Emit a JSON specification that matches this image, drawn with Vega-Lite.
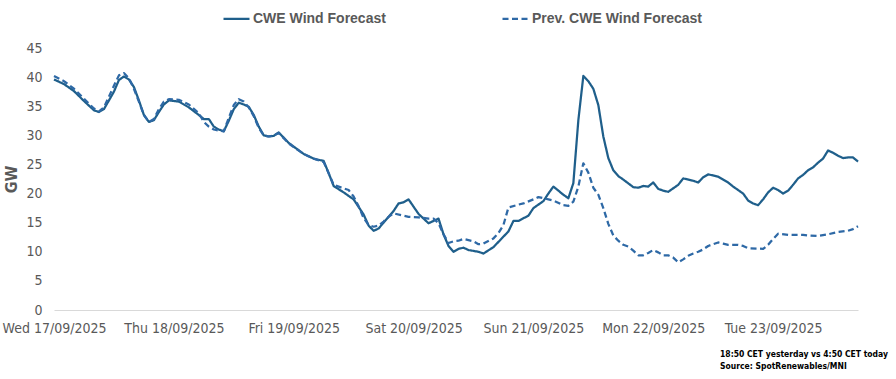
{
  "$schema": "https://vega.github.io/schema/vega-lite/v6.json",
  "width": 804,
  "height": 262,
  "autosize": "none",
  "padding": {"left": 54, "top": 48, "right": 38, "bottom": 69},
  "background": "white",
  "config": {
    "view": {"stroke": null},
    "font": "Liberation Sans Narrow, DejaVu Sans Condensed, Arial Narrow, sans-serif",
    "legend": {
      "orient": "none",
      "legendX": 168,
      "legendY": -44,
      "direction": "horizontal",
      "title": null,
      "symbolType": "stroke",
      "symbolSize": 676,
      "symbolStrokeWidth": 2.25,
      "labelFont": "Liberation Sans, Arial, sans-serif",
      "labelFontSize": 14,
      "labelFontWeight": "bold",
      "labelColor": "#595959",
      "labelOffset": 2,
      "columnPadding": 112,
      "labelLimit": 400
    }
  },
  "title": {
    "text": ["18:50 CET yesterday vs  4:50 CET today", "Source: SpotRenewables/MNI"],
    "orient": "bottom",
    "anchor": "start",
    "frame": "group",
    "align": "left",
    "dx": 666,
    "offset": 15,
    "font": "Liberation Sans Narrow, DejaVu Sans Condensed, Arial Narrow, sans-serif",
    "fontSize": 8.5,
    "fontWeight": "bold",
    "color": "#000000",
    "lineHeight": 12
  },
  "data": {
    "values": [
      {"t": "2025-09-17T00:00", "v": 39.6, "s": "CWE Wind Forecast"},
      {"t": "2025-09-17T02:00", "v": 38.8, "s": "CWE Wind Forecast"},
      {"t": "2025-09-17T04:00", "v": 37.6, "s": "CWE Wind Forecast"},
      {"t": "2025-09-17T06:00", "v": 35.9, "s": "CWE Wind Forecast"},
      {"t": "2025-09-17T08:00", "v": 34.3, "s": "CWE Wind Forecast"},
      {"t": "2025-09-17T09:00", "v": 34.0, "s": "CWE Wind Forecast"},
      {"t": "2025-09-17T10:00", "v": 34.5, "s": "CWE Wind Forecast"},
      {"t": "2025-09-17T12:00", "v": 37.5, "s": "CWE Wind Forecast"},
      {"t": "2025-09-17T13:00", "v": 39.5, "s": "CWE Wind Forecast"},
      {"t": "2025-09-17T14:00", "v": 40.1, "s": "CWE Wind Forecast"},
      {"t": "2025-09-17T15:00", "v": 39.6, "s": "CWE Wind Forecast"},
      {"t": "2025-09-17T16:00", "v": 38.3, "s": "CWE Wind Forecast"},
      {"t": "2025-09-17T17:00", "v": 36.0, "s": "CWE Wind Forecast"},
      {"t": "2025-09-17T18:00", "v": 33.5, "s": "CWE Wind Forecast"},
      {"t": "2025-09-17T19:00", "v": 32.3, "s": "CWE Wind Forecast"},
      {"t": "2025-09-17T20:00", "v": 32.6, "s": "CWE Wind Forecast"},
      {"t": "2025-09-17T21:00", "v": 34.0, "s": "CWE Wind Forecast"},
      {"t": "2025-09-17T22:00", "v": 35.3, "s": "CWE Wind Forecast"},
      {"t": "2025-09-17T23:00", "v": 36.0, "s": "CWE Wind Forecast"},
      {"t": "2025-09-18T01:00", "v": 35.8, "s": "CWE Wind Forecast"},
      {"t": "2025-09-18T03:00", "v": 34.8, "s": "CWE Wind Forecast"},
      {"t": "2025-09-18T05:00", "v": 33.5, "s": "CWE Wind Forecast"},
      {"t": "2025-09-18T06:00", "v": 32.8, "s": "CWE Wind Forecast"},
      {"t": "2025-09-18T07:00", "v": 32.8, "s": "CWE Wind Forecast"},
      {"t": "2025-09-18T08:00", "v": 31.5, "s": "CWE Wind Forecast"},
      {"t": "2025-09-18T09:00", "v": 31.0, "s": "CWE Wind Forecast"},
      {"t": "2025-09-18T10:00", "v": 30.7, "s": "CWE Wind Forecast"},
      {"t": "2025-09-18T11:00", "v": 32.5, "s": "CWE Wind Forecast"},
      {"t": "2025-09-18T12:00", "v": 34.5, "s": "CWE Wind Forecast"},
      {"t": "2025-09-18T13:00", "v": 35.6, "s": "CWE Wind Forecast"},
      {"t": "2025-09-18T14:00", "v": 35.3, "s": "CWE Wind Forecast"},
      {"t": "2025-09-18T15:00", "v": 34.9, "s": "CWE Wind Forecast"},
      {"t": "2025-09-18T16:00", "v": 33.5, "s": "CWE Wind Forecast"},
      {"t": "2025-09-18T17:00", "v": 31.5, "s": "CWE Wind Forecast"},
      {"t": "2025-09-18T18:00", "v": 30.0, "s": "CWE Wind Forecast"},
      {"t": "2025-09-18T19:00", "v": 29.8, "s": "CWE Wind Forecast"},
      {"t": "2025-09-18T20:00", "v": 29.9, "s": "CWE Wind Forecast"},
      {"t": "2025-09-18T21:00", "v": 30.5, "s": "CWE Wind Forecast"},
      {"t": "2025-09-18T23:00", "v": 28.7, "s": "CWE Wind Forecast"},
      {"t": "2025-09-19T02:00", "v": 26.8, "s": "CWE Wind Forecast"},
      {"t": "2025-09-19T04:00", "v": 26.0, "s": "CWE Wind Forecast"},
      {"t": "2025-09-19T06:00", "v": 25.6, "s": "CWE Wind Forecast"},
      {"t": "2025-09-19T07:00", "v": 23.5, "s": "CWE Wind Forecast"},
      {"t": "2025-09-19T08:00", "v": 21.3, "s": "CWE Wind Forecast"},
      {"t": "2025-09-19T10:00", "v": 20.2, "s": "CWE Wind Forecast"},
      {"t": "2025-09-19T12:00", "v": 19.0, "s": "CWE Wind Forecast"},
      {"t": "2025-09-19T14:00", "v": 16.4, "s": "CWE Wind Forecast"},
      {"t": "2025-09-19T15:00", "v": 14.5, "s": "CWE Wind Forecast"},
      {"t": "2025-09-19T16:00", "v": 13.6, "s": "CWE Wind Forecast"},
      {"t": "2025-09-19T17:00", "v": 14.0, "s": "CWE Wind Forecast"},
      {"t": "2025-09-19T18:00", "v": 15.0, "s": "CWE Wind Forecast"},
      {"t": "2025-09-19T20:00", "v": 17.0, "s": "CWE Wind Forecast"},
      {"t": "2025-09-19T21:00", "v": 18.3, "s": "CWE Wind Forecast"},
      {"t": "2025-09-19T22:00", "v": 18.5, "s": "CWE Wind Forecast"},
      {"t": "2025-09-19T23:00", "v": 19.0, "s": "CWE Wind Forecast"},
      {"t": "2025-09-20T01:00", "v": 16.5, "s": "CWE Wind Forecast"},
      {"t": "2025-09-20T03:00", "v": 14.9, "s": "CWE Wind Forecast"},
      {"t": "2025-09-20T04:00", "v": 15.3, "s": "CWE Wind Forecast"},
      {"t": "2025-09-20T05:00", "v": 15.7, "s": "CWE Wind Forecast"},
      {"t": "2025-09-20T06:00", "v": 13.0, "s": "CWE Wind Forecast"},
      {"t": "2025-09-20T07:00", "v": 11.0, "s": "CWE Wind Forecast"},
      {"t": "2025-09-20T08:00", "v": 10.0, "s": "CWE Wind Forecast"},
      {"t": "2025-09-20T09:00", "v": 10.5, "s": "CWE Wind Forecast"},
      {"t": "2025-09-20T10:00", "v": 10.7, "s": "CWE Wind Forecast"},
      {"t": "2025-09-20T11:00", "v": 10.3, "s": "CWE Wind Forecast"},
      {"t": "2025-09-20T13:00", "v": 10.0, "s": "CWE Wind Forecast"},
      {"t": "2025-09-20T14:00", "v": 9.7, "s": "CWE Wind Forecast"},
      {"t": "2025-09-20T16:00", "v": 10.8, "s": "CWE Wind Forecast"},
      {"t": "2025-09-20T17:00", "v": 11.7, "s": "CWE Wind Forecast"},
      {"t": "2025-09-20T19:00", "v": 13.5, "s": "CWE Wind Forecast"},
      {"t": "2025-09-20T20:00", "v": 15.3, "s": "CWE Wind Forecast"},
      {"t": "2025-09-20T21:00", "v": 15.3, "s": "CWE Wind Forecast"},
      {"t": "2025-09-20T23:00", "v": 16.2, "s": "CWE Wind Forecast"},
      {"t": "2025-09-21T00:00", "v": 17.5, "s": "CWE Wind Forecast"},
      {"t": "2025-09-21T02:00", "v": 18.7, "s": "CWE Wind Forecast"},
      {"t": "2025-09-21T03:00", "v": 20.0, "s": "CWE Wind Forecast"},
      {"t": "2025-09-21T04:00", "v": 21.2, "s": "CWE Wind Forecast"},
      {"t": "2025-09-21T05:00", "v": 20.5, "s": "CWE Wind Forecast"},
      {"t": "2025-09-21T06:00", "v": 19.8, "s": "CWE Wind Forecast"},
      {"t": "2025-09-21T07:00", "v": 19.2, "s": "CWE Wind Forecast"},
      {"t": "2025-09-21T08:00", "v": 21.8, "s": "CWE Wind Forecast"},
      {"t": "2025-09-21T09:00", "v": 32.6, "s": "CWE Wind Forecast"},
      {"t": "2025-09-21T10:00", "v": 40.2, "s": "CWE Wind Forecast"},
      {"t": "2025-09-21T11:00", "v": 39.3, "s": "CWE Wind Forecast"},
      {"t": "2025-09-21T12:00", "v": 38.0, "s": "CWE Wind Forecast"},
      {"t": "2025-09-21T13:00", "v": 35.2, "s": "CWE Wind Forecast"},
      {"t": "2025-09-21T14:00", "v": 29.8, "s": "CWE Wind Forecast"},
      {"t": "2025-09-21T15:00", "v": 26.1, "s": "CWE Wind Forecast"},
      {"t": "2025-09-21T16:00", "v": 24.0, "s": "CWE Wind Forecast"},
      {"t": "2025-09-21T17:00", "v": 23.0, "s": "CWE Wind Forecast"},
      {"t": "2025-09-21T18:00", "v": 22.4, "s": "CWE Wind Forecast"},
      {"t": "2025-09-21T20:00", "v": 21.1, "s": "CWE Wind Forecast"},
      {"t": "2025-09-21T21:00", "v": 21.0, "s": "CWE Wind Forecast"},
      {"t": "2025-09-21T22:00", "v": 21.3, "s": "CWE Wind Forecast"},
      {"t": "2025-09-21T23:00", "v": 21.2, "s": "CWE Wind Forecast"},
      {"t": "2025-09-22T00:00", "v": 21.9, "s": "CWE Wind Forecast"},
      {"t": "2025-09-22T01:00", "v": 20.8, "s": "CWE Wind Forecast"},
      {"t": "2025-09-22T02:00", "v": 20.5, "s": "CWE Wind Forecast"},
      {"t": "2025-09-22T03:00", "v": 20.3, "s": "CWE Wind Forecast"},
      {"t": "2025-09-22T05:00", "v": 21.5, "s": "CWE Wind Forecast"},
      {"t": "2025-09-22T06:00", "v": 22.6, "s": "CWE Wind Forecast"},
      {"t": "2025-09-22T08:00", "v": 22.2, "s": "CWE Wind Forecast"},
      {"t": "2025-09-22T09:00", "v": 21.9, "s": "CWE Wind Forecast"},
      {"t": "2025-09-22T10:00", "v": 22.8, "s": "CWE Wind Forecast"},
      {"t": "2025-09-22T11:00", "v": 23.3, "s": "CWE Wind Forecast"},
      {"t": "2025-09-22T13:00", "v": 22.9, "s": "CWE Wind Forecast"},
      {"t": "2025-09-22T15:00", "v": 21.9, "s": "CWE Wind Forecast"},
      {"t": "2025-09-22T16:00", "v": 21.2, "s": "CWE Wind Forecast"},
      {"t": "2025-09-22T17:00", "v": 20.6, "s": "CWE Wind Forecast"},
      {"t": "2025-09-22T18:00", "v": 20.0, "s": "CWE Wind Forecast"},
      {"t": "2025-09-22T19:00", "v": 18.8, "s": "CWE Wind Forecast"},
      {"t": "2025-09-22T20:00", "v": 18.3, "s": "CWE Wind Forecast"},
      {"t": "2025-09-22T21:00", "v": 18.0, "s": "CWE Wind Forecast"},
      {"t": "2025-09-22T22:00", "v": 19.0, "s": "CWE Wind Forecast"},
      {"t": "2025-09-22T23:00", "v": 20.2, "s": "CWE Wind Forecast"},
      {"t": "2025-09-23T00:00", "v": 21.0, "s": "CWE Wind Forecast"},
      {"t": "2025-09-23T01:00", "v": 20.6, "s": "CWE Wind Forecast"},
      {"t": "2025-09-23T02:00", "v": 20.0, "s": "CWE Wind Forecast"},
      {"t": "2025-09-23T03:00", "v": 20.5, "s": "CWE Wind Forecast"},
      {"t": "2025-09-23T04:00", "v": 21.5, "s": "CWE Wind Forecast"},
      {"t": "2025-09-23T05:00", "v": 22.6, "s": "CWE Wind Forecast"},
      {"t": "2025-09-23T06:00", "v": 23.2, "s": "CWE Wind Forecast"},
      {"t": "2025-09-23T07:00", "v": 24.0, "s": "CWE Wind Forecast"},
      {"t": "2025-09-23T08:00", "v": 24.5, "s": "CWE Wind Forecast"},
      {"t": "2025-09-23T09:00", "v": 25.3, "s": "CWE Wind Forecast"},
      {"t": "2025-09-23T10:00", "v": 26.0, "s": "CWE Wind Forecast"},
      {"t": "2025-09-23T11:00", "v": 27.4, "s": "CWE Wind Forecast"},
      {"t": "2025-09-23T12:00", "v": 27.0, "s": "CWE Wind Forecast"},
      {"t": "2025-09-23T13:00", "v": 26.5, "s": "CWE Wind Forecast"},
      {"t": "2025-09-23T14:00", "v": 26.1, "s": "CWE Wind Forecast"},
      {"t": "2025-09-23T15:00", "v": 26.2, "s": "CWE Wind Forecast"},
      {"t": "2025-09-23T16:00", "v": 26.2, "s": "CWE Wind Forecast"},
      {"t": "2025-09-23T17:00", "v": 25.5, "s": "CWE Wind Forecast"},
      {"t": "2025-09-17T00:00", "v": 40.2, "s": "Prev. CWE Wind Forecast"},
      {"t": "2025-09-17T02:00", "v": 39.3, "s": "Prev. CWE Wind Forecast"},
      {"t": "2025-09-17T04:00", "v": 38.0, "s": "Prev. CWE Wind Forecast"},
      {"t": "2025-09-17T06:00", "v": 36.3, "s": "Prev. CWE Wind Forecast"},
      {"t": "2025-09-17T08:00", "v": 34.6, "s": "Prev. CWE Wind Forecast"},
      {"t": "2025-09-17T09:00", "v": 34.1, "s": "Prev. CWE Wind Forecast"},
      {"t": "2025-09-17T10:00", "v": 34.8, "s": "Prev. CWE Wind Forecast"},
      {"t": "2025-09-17T12:00", "v": 38.5, "s": "Prev. CWE Wind Forecast"},
      {"t": "2025-09-17T13:00", "v": 40.3, "s": "Prev. CWE Wind Forecast"},
      {"t": "2025-09-17T14:00", "v": 40.7, "s": "Prev. CWE Wind Forecast"},
      {"t": "2025-09-17T15:00", "v": 39.8, "s": "Prev. CWE Wind Forecast"},
      {"t": "2025-09-17T16:00", "v": 38.0, "s": "Prev. CWE Wind Forecast"},
      {"t": "2025-09-17T17:00", "v": 35.8, "s": "Prev. CWE Wind Forecast"},
      {"t": "2025-09-17T18:00", "v": 33.5, "s": "Prev. CWE Wind Forecast"},
      {"t": "2025-09-17T19:00", "v": 32.3, "s": "Prev. CWE Wind Forecast"},
      {"t": "2025-09-17T20:00", "v": 32.8, "s": "Prev. CWE Wind Forecast"},
      {"t": "2025-09-17T21:00", "v": 34.5, "s": "Prev. CWE Wind Forecast"},
      {"t": "2025-09-17T22:00", "v": 35.8, "s": "Prev. CWE Wind Forecast"},
      {"t": "2025-09-17T23:00", "v": 36.2, "s": "Prev. CWE Wind Forecast"},
      {"t": "2025-09-18T01:00", "v": 36.1, "s": "Prev. CWE Wind Forecast"},
      {"t": "2025-09-18T03:00", "v": 35.3, "s": "Prev. CWE Wind Forecast"},
      {"t": "2025-09-18T05:00", "v": 33.8, "s": "Prev. CWE Wind Forecast"},
      {"t": "2025-09-18T06:00", "v": 32.3, "s": "Prev. CWE Wind Forecast"},
      {"t": "2025-09-18T07:00", "v": 31.5, "s": "Prev. CWE Wind Forecast"},
      {"t": "2025-09-18T08:00", "v": 31.0, "s": "Prev. CWE Wind Forecast"},
      {"t": "2025-09-18T09:00", "v": 30.8, "s": "Prev. CWE Wind Forecast"},
      {"t": "2025-09-18T10:00", "v": 30.7, "s": "Prev. CWE Wind Forecast"},
      {"t": "2025-09-18T11:00", "v": 33.0, "s": "Prev. CWE Wind Forecast"},
      {"t": "2025-09-18T12:00", "v": 35.2, "s": "Prev. CWE Wind Forecast"},
      {"t": "2025-09-18T13:00", "v": 36.2, "s": "Prev. CWE Wind Forecast"},
      {"t": "2025-09-18T14:00", "v": 35.8, "s": "Prev. CWE Wind Forecast"},
      {"t": "2025-09-18T15:00", "v": 34.8, "s": "Prev. CWE Wind Forecast"},
      {"t": "2025-09-18T16:00", "v": 33.3, "s": "Prev. CWE Wind Forecast"},
      {"t": "2025-09-18T17:00", "v": 31.3, "s": "Prev. CWE Wind Forecast"},
      {"t": "2025-09-18T18:00", "v": 30.0, "s": "Prev. CWE Wind Forecast"},
      {"t": "2025-09-18T19:00", "v": 29.8, "s": "Prev. CWE Wind Forecast"},
      {"t": "2025-09-18T20:00", "v": 30.0, "s": "Prev. CWE Wind Forecast"},
      {"t": "2025-09-18T21:00", "v": 30.4, "s": "Prev. CWE Wind Forecast"},
      {"t": "2025-09-18T23:00", "v": 28.6, "s": "Prev. CWE Wind Forecast"},
      {"t": "2025-09-19T02:00", "v": 26.8, "s": "Prev. CWE Wind Forecast"},
      {"t": "2025-09-19T04:00", "v": 26.0, "s": "Prev. CWE Wind Forecast"},
      {"t": "2025-09-19T06:00", "v": 25.4, "s": "Prev. CWE Wind Forecast"},
      {"t": "2025-09-19T07:00", "v": 23.5, "s": "Prev. CWE Wind Forecast"},
      {"t": "2025-09-19T08:00", "v": 21.5, "s": "Prev. CWE Wind Forecast"},
      {"t": "2025-09-19T10:00", "v": 20.9, "s": "Prev. CWE Wind Forecast"},
      {"t": "2025-09-19T11:00", "v": 20.6, "s": "Prev. CWE Wind Forecast"},
      {"t": "2025-09-19T12:00", "v": 19.5, "s": "Prev. CWE Wind Forecast"},
      {"t": "2025-09-19T13:00", "v": 17.8, "s": "Prev. CWE Wind Forecast"},
      {"t": "2025-09-19T14:00", "v": 15.8, "s": "Prev. CWE Wind Forecast"},
      {"t": "2025-09-19T15:00", "v": 14.6, "s": "Prev. CWE Wind Forecast"},
      {"t": "2025-09-19T16:00", "v": 14.3, "s": "Prev. CWE Wind Forecast"},
      {"t": "2025-09-19T17:00", "v": 14.5, "s": "Prev. CWE Wind Forecast"},
      {"t": "2025-09-19T18:00", "v": 15.2, "s": "Prev. CWE Wind Forecast"},
      {"t": "2025-09-19T19:00", "v": 16.0, "s": "Prev. CWE Wind Forecast"},
      {"t": "2025-09-19T20:00", "v": 16.6, "s": "Prev. CWE Wind Forecast"},
      {"t": "2025-09-19T22:00", "v": 16.2, "s": "Prev. CWE Wind Forecast"},
      {"t": "2025-09-19T23:00", "v": 16.0, "s": "Prev. CWE Wind Forecast"},
      {"t": "2025-09-20T01:00", "v": 15.9, "s": "Prev. CWE Wind Forecast"},
      {"t": "2025-09-20T03:00", "v": 15.7, "s": "Prev. CWE Wind Forecast"},
      {"t": "2025-09-20T04:00", "v": 15.7, "s": "Prev. CWE Wind Forecast"},
      {"t": "2025-09-20T05:00", "v": 14.9, "s": "Prev. CWE Wind Forecast"},
      {"t": "2025-09-20T06:00", "v": 13.0, "s": "Prev. CWE Wind Forecast"},
      {"t": "2025-09-20T07:00", "v": 11.5, "s": "Prev. CWE Wind Forecast"},
      {"t": "2025-09-20T08:00", "v": 11.8, "s": "Prev. CWE Wind Forecast"},
      {"t": "2025-09-20T09:00", "v": 11.9, "s": "Prev. CWE Wind Forecast"},
      {"t": "2025-09-20T10:00", "v": 12.2, "s": "Prev. CWE Wind Forecast"},
      {"t": "2025-09-20T12:00", "v": 11.8, "s": "Prev. CWE Wind Forecast"},
      {"t": "2025-09-20T13:00", "v": 11.3, "s": "Prev. CWE Wind Forecast"},
      {"t": "2025-09-20T14:00", "v": 11.4, "s": "Prev. CWE Wind Forecast"},
      {"t": "2025-09-20T16:00", "v": 12.3, "s": "Prev. CWE Wind Forecast"},
      {"t": "2025-09-20T17:00", "v": 13.2, "s": "Prev. CWE Wind Forecast"},
      {"t": "2025-09-20T18:00", "v": 14.6, "s": "Prev. CWE Wind Forecast"},
      {"t": "2025-09-20T19:00", "v": 17.6, "s": "Prev. CWE Wind Forecast"},
      {"t": "2025-09-20T21:00", "v": 18.1, "s": "Prev. CWE Wind Forecast"},
      {"t": "2025-09-20T22:00", "v": 18.3, "s": "Prev. CWE Wind Forecast"},
      {"t": "2025-09-21T00:00", "v": 19.0, "s": "Prev. CWE Wind Forecast"},
      {"t": "2025-09-21T01:00", "v": 19.4, "s": "Prev. CWE Wind Forecast"},
      {"t": "2025-09-21T03:00", "v": 19.0, "s": "Prev. CWE Wind Forecast"},
      {"t": "2025-09-21T04:00", "v": 18.8, "s": "Prev. CWE Wind Forecast"},
      {"t": "2025-09-21T06:00", "v": 18.0, "s": "Prev. CWE Wind Forecast"},
      {"t": "2025-09-21T07:00", "v": 17.9, "s": "Prev. CWE Wind Forecast"},
      {"t": "2025-09-21T08:00", "v": 18.6, "s": "Prev. CWE Wind Forecast"},
      {"t": "2025-09-21T09:00", "v": 21.2, "s": "Prev. CWE Wind Forecast"},
      {"t": "2025-09-21T10:00", "v": 25.2, "s": "Prev. CWE Wind Forecast"},
      {"t": "2025-09-21T11:00", "v": 23.6, "s": "Prev. CWE Wind Forecast"},
      {"t": "2025-09-21T12:00", "v": 21.0, "s": "Prev. CWE Wind Forecast"},
      {"t": "2025-09-21T13:00", "v": 19.8, "s": "Prev. CWE Wind Forecast"},
      {"t": "2025-09-21T14:00", "v": 17.5, "s": "Prev. CWE Wind Forecast"},
      {"t": "2025-09-21T15:00", "v": 14.8, "s": "Prev. CWE Wind Forecast"},
      {"t": "2025-09-21T16:00", "v": 12.8, "s": "Prev. CWE Wind Forecast"},
      {"t": "2025-09-21T17:00", "v": 11.9, "s": "Prev. CWE Wind Forecast"},
      {"t": "2025-09-21T18:00", "v": 11.2, "s": "Prev. CWE Wind Forecast"},
      {"t": "2025-09-21T19:00", "v": 10.9, "s": "Prev. CWE Wind Forecast"},
      {"t": "2025-09-21T20:00", "v": 10.2, "s": "Prev. CWE Wind Forecast"},
      {"t": "2025-09-21T21:00", "v": 9.4, "s": "Prev. CWE Wind Forecast"},
      {"t": "2025-09-21T22:00", "v": 9.4, "s": "Prev. CWE Wind Forecast"},
      {"t": "2025-09-21T23:00", "v": 9.8, "s": "Prev. CWE Wind Forecast"},
      {"t": "2025-09-22T00:00", "v": 10.3, "s": "Prev. CWE Wind Forecast"},
      {"t": "2025-09-22T01:00", "v": 9.9, "s": "Prev. CWE Wind Forecast"},
      {"t": "2025-09-22T02:00", "v": 9.4, "s": "Prev. CWE Wind Forecast"},
      {"t": "2025-09-22T03:00", "v": 9.4, "s": "Prev. CWE Wind Forecast"},
      {"t": "2025-09-22T04:00", "v": 9.0, "s": "Prev. CWE Wind Forecast"},
      {"t": "2025-09-22T05:00", "v": 8.2, "s": "Prev. CWE Wind Forecast"},
      {"t": "2025-09-22T06:00", "v": 8.7, "s": "Prev. CWE Wind Forecast"},
      {"t": "2025-09-22T07:00", "v": 9.3, "s": "Prev. CWE Wind Forecast"},
      {"t": "2025-09-22T08:00", "v": 9.7, "s": "Prev. CWE Wind Forecast"},
      {"t": "2025-09-22T09:00", "v": 10.0, "s": "Prev. CWE Wind Forecast"},
      {"t": "2025-09-22T10:00", "v": 10.4, "s": "Prev. CWE Wind Forecast"},
      {"t": "2025-09-22T11:00", "v": 11.0, "s": "Prev. CWE Wind Forecast"},
      {"t": "2025-09-22T12:00", "v": 11.3, "s": "Prev. CWE Wind Forecast"},
      {"t": "2025-09-22T13:00", "v": 11.6, "s": "Prev. CWE Wind Forecast"},
      {"t": "2025-09-22T14:00", "v": 11.4, "s": "Prev. CWE Wind Forecast"},
      {"t": "2025-09-22T15:00", "v": 11.2, "s": "Prev. CWE Wind Forecast"},
      {"t": "2025-09-22T17:00", "v": 11.2, "s": "Prev. CWE Wind Forecast"},
      {"t": "2025-09-22T18:00", "v": 11.0, "s": "Prev. CWE Wind Forecast"},
      {"t": "2025-09-22T19:00", "v": 10.6, "s": "Prev. CWE Wind Forecast"},
      {"t": "2025-09-22T22:00", "v": 10.5, "s": "Prev. CWE Wind Forecast"},
      {"t": "2025-09-22T23:00", "v": 11.2, "s": "Prev. CWE Wind Forecast"},
      {"t": "2025-09-23T00:00", "v": 12.2, "s": "Prev. CWE Wind Forecast"},
      {"t": "2025-09-23T01:00", "v": 13.1, "s": "Prev. CWE Wind Forecast"},
      {"t": "2025-09-23T03:00", "v": 12.9, "s": "Prev. CWE Wind Forecast"},
      {"t": "2025-09-23T06:00", "v": 12.9, "s": "Prev. CWE Wind Forecast"},
      {"t": "2025-09-23T07:00", "v": 12.8, "s": "Prev. CWE Wind Forecast"},
      {"t": "2025-09-23T09:00", "v": 12.7, "s": "Prev. CWE Wind Forecast"},
      {"t": "2025-09-23T11:00", "v": 13.0, "s": "Prev. CWE Wind Forecast"},
      {"t": "2025-09-23T13:00", "v": 13.4, "s": "Prev. CWE Wind Forecast"},
      {"t": "2025-09-23T15:00", "v": 13.6, "s": "Prev. CWE Wind Forecast"},
      {"t": "2025-09-23T16:00", "v": 13.9, "s": "Prev. CWE Wind Forecast"},
      {"t": "2025-09-23T17:00", "v": 14.4, "s": "Prev. CWE Wind Forecast"}
    ]
  },
  "mark": {"type": "line", "strokeWidth": 2.25, "strokeJoin": "round"},
  "encoding": {
    "x": {
      "field": "t",
      "type": "temporal",
      "scale": {"domain": ["2025-09-17T00:00", "2025-09-23T17:00"], "nice": false},
      "axis": {
        "title": null,
        "format": "%a %d/%m/%Y",
        "tickCount": {"interval": "day", "step": 1},
        "labelFontSize": 14,
        "labelColor": "#595959",
        "labelPadding": 11,
        "labelFlush": false,
        "labelOverlap": false,
        "ticks": false,
        "grid": false,
        "domainColor": "#d9d9d9",
        "domainWidth": 1
      }
    },
    "y": {
      "field": "v",
      "type": "quantitative",
      "scale": {"domain": [0, 45], "nice": false},
      "axis": {
        "title": "GW",
        "titleFontSize": 16,
        "titleFontWeight": "bold",
        "titleColor": "#595959",
        "titlePadding": 6,
        "values": [0, 5, 10, 15, 20, 25, 30, 35, 40, 45],
        "labelFontSize": 14,
        "labelColor": "#595959",
        "labelPadding": 12,
        "domain": false,
        "ticks": false,
        "grid": false
      }
    },
    "color": {
      "field": "s",
      "type": "nominal",
      "scale": {"domain": ["CWE Wind Forecast", "Prev. CWE Wind Forecast"], "range": ["#1f5f8b", "#2e69a6"]}
    },
    "strokeDash": {
      "field": "s",
      "type": "nominal",
      "scale": {"domain": ["CWE Wind Forecast", "Prev. CWE Wind Forecast"], "range": [[1, 0], [6, 3.5]]}
    }
  }
}
